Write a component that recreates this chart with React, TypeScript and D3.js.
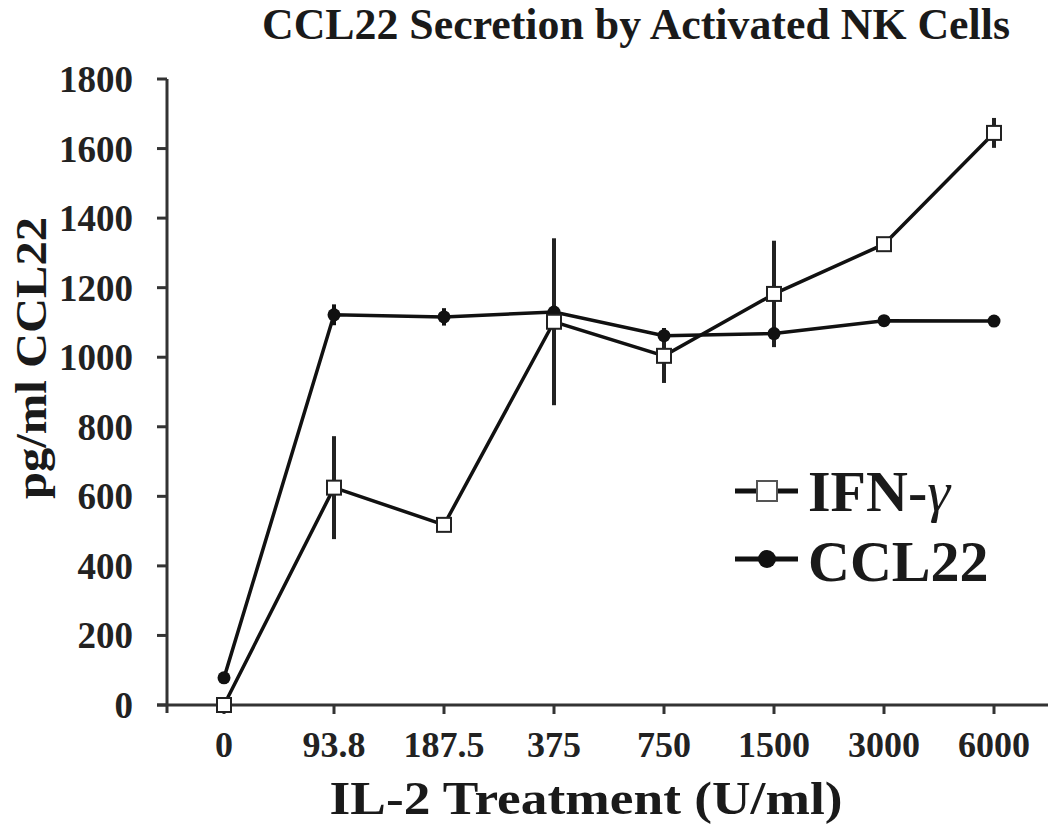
import React from "react";
import * as d3 from "d3";

const categories = ["0", "93.8", "187.5", "375", "750", "1500", "3000", "6000"];
const ifnValues = [0, 625, 518, 1102, 1004, 1182, 1325, 1645];
const ifnErrors = [0, 148, 0, 240, 78, 153, 15, 43];
const ccl22Values = [78, 1122, 1116, 1130, 1062, 1068, 1105, 1104];
const ccl22Errors = [0, 30, 25, 20, 22, 30, 12, 12];
const yTicks = [0, 200, 400, 600, 800, 1000, 1200, 1400, 1600, 1800];

const W = 1050;
const H = 824;
const FONT = "'Liberation Serif', 'Times New Roman', serif";

export default function App() {
  const x = d3.scalePoint<string>().domain(categories).range([224, 994]);
  const y = d3.scaleLinear().domain([0, 1800]).range([705, 79]);
  const line = d3
    .line<number>()
    .x((_, i) => x(categories[i]) as number)
    .y((d) => y(d));

  const axisColor = "#333";
  return (
    <svg
      width={W}
      height={H}
      style={{ position: "absolute", left: 0, top: 0, background: "#fff" }}
      fontFamily={FONT}
    >
      {/* Title */}
      <text
        x={636}
        y={39}
        textAnchor="middle"
        fontSize={44}
        fontWeight="bold"
        fill="#1a1a1a"
        textLength={748}
        lengthAdjust="spacingAndGlyphs"
      >
        CCL22 Secretion by Activated NK Cells
      </text>

      {/* Y axis */}
      <line x1={167} x2={167} y1={y(1800)} y2={713} stroke={axisColor} strokeWidth={3} />
      {yTicks.map((t) => (
        <g key={t}>
          <line x1={157} x2={167} y1={y(t)} y2={y(t)} stroke={axisColor} strokeWidth={3} />
          <text
            x={133}
            y={y(t)}
            dy="0.35em"
            textAnchor="end"
            fontSize={37}
            fontWeight="bold"
            fill="#222"
          >
            {t}
          </text>
        </g>
      ))}

      {/* X axis */}
      <line x1={157} x2={1048} y1={y(0)} y2={y(0)} stroke={axisColor} strokeWidth={3} />
      {categories.map((c) => (
        <g key={c}>
          <line
            x1={x(c)}
            x2={x(c)}
            y1={y(0)}
            y2={y(0) + 9}
            stroke={axisColor}
            strokeWidth={3}
          />
          <text
            x={x(c)}
            y={757}
            textAnchor="middle"
            fontSize={36}
            fontWeight="bold"
            fill="#222"
          >
            {c}
          </text>
        </g>
      ))}

      {/* Axis titles */}
      <text
        x={586}
        y={814}
        textAnchor="middle"
        fontSize={46}
        fontWeight="bold"
        fill="#1a1a1a"
        textLength={513}
        lengthAdjust="spacingAndGlyphs"
      >
        IL-2 Treatment (U/ml)
      </text>
      <text
        transform={`translate(46,358) rotate(-90)`}
        textAnchor="middle"
        fontSize={44}
        fontWeight="bold"
        fill="#1a1a1a"
        textLength={282}
        lengthAdjust="spacingAndGlyphs"
      >
        pg/ml CCL22
      </text>

      {/* Lines */}
      <path d={line(ccl22Values) || ""} fill="none" stroke="#111" strokeWidth={3.5} />
      <path d={line(ifnValues) || ""} fill="none" stroke="#111" strokeWidth={3.5} />

      {/* Error bars */}
      {ccl22Values.map((v, i) =>
        ccl22Errors[i] > 0 ? (
          <line
            key={"ce" + i}
            x1={x(categories[i])}
            x2={x(categories[i])}
            y1={y(v + ccl22Errors[i])}
            y2={y(v - ccl22Errors[i])}
            stroke="#111"
            strokeWidth={4}
          />
        ) : null
      )}
      {ifnValues.map((v, i) =>
        ifnErrors[i] > 0 ? (
          <line
            key={"ie" + i}
            x1={x(categories[i])}
            x2={x(categories[i])}
            y1={y(v + ifnErrors[i])}
            y2={y(v - ifnErrors[i])}
            stroke="#222"
            strokeWidth={4}
          />
        ) : null
      )}

      {/* Markers */}
      {ccl22Values.map((v, i) => (
        <circle key={"cm" + i} cx={x(categories[i])} cy={y(v)} r={6.5} fill="#111" />
      ))}
      {ifnValues.map((v, i) => (
        <rect
          key={"im" + i}
          x={(x(categories[i]) as number) - 7}
          y={y(v) - 7}
          width={14}
          height={14}
          fill="#fff"
          stroke="#222"
          strokeWidth={2}
        />
      ))}

      {/* Legend */}
      <g>
        <line x1={735} x2={798} y1={491} y2={491} stroke="#111" strokeWidth={5} />
        <rect x={757} y={481} width={20} height={20} fill="#fff" stroke="#555" strokeWidth={2} />
        <text x={808} y={511} fontSize={58} fontWeight="bold" fill="#1a1a1a">
          IFN-<tspan fontStyle="italic" fontWeight="normal">γ</tspan>
        </text>
        <line x1={735} x2={798} y1={559} y2={559} stroke="#111" strokeWidth={5} />
        <circle cx={767} cy={559} r={9} fill="#111" />
        <text x={808} y={581} fontSize={58} fontWeight="bold" fill="#1a1a1a">
          CCL22
        </text>
      </g>
    </svg>
  );
}
